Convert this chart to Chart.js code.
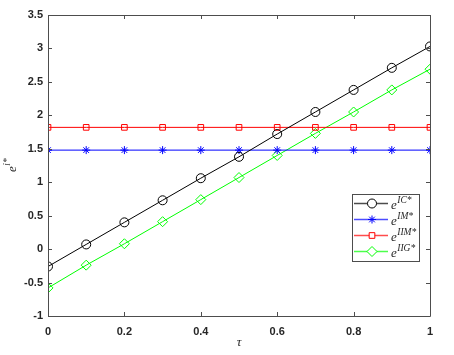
<!DOCTYPE html>
<html><head><meta charset="utf-8">
<script src="https://cdn.jsdelivr.net/npm/chart.js@4/dist/chart.umd.min.js"></script>
<style>html,body{margin:0;padding:0;background:#fff}#wrap{width:454px;height:355px}</style>
</head><body><div id="wrap"><canvas id="c" width="454" height="355"></canvas></div>
<script>
const tau = [0, 0.1, 0.2, 0.3, 0.4, 0.5, 0.6, 0.7, 0.8, 0.9, 1.0];
const eIC  = [-0.26, 0.07, 0.40, 0.73, 1.06, 1.38, 1.72, 2.05, 2.38, 2.71, 3.03];
const eIM  = [1.48, 1.48, 1.48, 1.48, 1.48, 1.48, 1.48, 1.48, 1.48, 1.48, 1.48];
const eIIM = [1.82, 1.82, 1.82, 1.82, 1.82, 1.82, 1.82, 1.82, 1.82, 1.82, 1.82];
const eIIG = [-0.58, -0.24, 0.08, 0.41, 0.74, 1.07, 1.40, 1.73, 2.05, 2.38, 2.69];
const seriesSup = ['IC*', 'IM*', 'IIM*', 'IIG*'];
const xTicks = [0, 0.2, 0.4, 0.6, 0.8, 1];
const yTicks = [-1, -0.5, 0, 0.5, 1, 1.5, 2, 2.5, 3, 3.5];

const colors = ['#000000', '#0000ff', '#ff0000', '#00ff00'];
const styles = ['circle', 'star', 'rect', 'rectRot'];
const radii = [4.5, 4, 4, 5];
const all = [eIC, eIM, eIIM, eIIG];

const datasets = all.map((arr, i) => ({
  label: seriesSup[i],
  data: arr.map((v, k) => ({x: tau[k], y: v})),
  borderColor: colors[i],
  backgroundColor: 'rgba(0,0,0,0)',
  borderWidth: 1,
  pointStyle: styles[i],
  pointRadius: radii[i],
  pointBorderColor: colors[i],
  pointBackgroundColor: 'rgba(0,0,0,0)',
  pointBorderWidth: 1,
  tension: 0
}));

const axisColor = '#4d4d4d';

const boxPlugin = {
  id: 'box',
  afterDatasetsDraw(chart) {
    const ctx = chart.ctx;
    const a = chart.chartArea;
    const xs = chart.scales.x, ys = chart.scales.y;
    ctx.save();
    ctx.strokeStyle = axisColor;
    ctx.lineWidth = 1;
    ctx.beginPath();
    ctx.rect(Math.round(a.left) + 0.5, Math.round(a.top) + 0.5, Math.round(a.right - a.left), Math.round(a.bottom - a.top));
    ctx.stroke();
    const L = 4;
    ctx.beginPath();
    xTicks.forEach(t => {
      const px = Math.round(xs.getPixelForValue(t)) + 0.5;
      ctx.moveTo(px, a.bottom); ctx.lineTo(px, a.bottom - L);
      ctx.moveTo(px, a.top); ctx.lineTo(px, a.top + L);
    });
    yTicks.forEach(t => {
      const py = Math.round(ys.getPixelForValue(t)) + 0.5;
      ctx.moveTo(a.left, py); ctx.lineTo(a.left + L, py);
      ctx.moveTo(a.right, py); ctx.lineTo(a.right - L, py);
    });
    ctx.stroke();

    // Axis titles
    ctx.fillStyle = '#262626';
    ctx.font = 'italic 13px "Liberation Serif"';
    ctx.textAlign = 'center';
    ctx.textBaseline = 'alphabetic';
    ctx.fillText('\u03C4', (a.left + a.right) / 2, 346);

    ctx.save();
    ctx.translate(16, 172);
    ctx.rotate(-Math.PI / 2);
    ctx.textAlign = 'left';
    ctx.font = 'italic 13px "Liberation Serif"';
    ctx.fillText('e', 0, 0);
    const ew = ctx.measureText('e').width;
    ctx.font = 'italic 9.5px "Liberation Serif"';
    ctx.fillText('i*', ew + 0.5, -6);
    ctx.restore();

    // Legend
    const lx = 352, ly = 194, lw = 67, lh = 67;
    ctx.fillStyle = '#ffffff';
    ctx.fillRect(lx, ly, lw, lh);
    ctx.strokeStyle = axisColor;
    ctx.strokeRect(lx + 0.5, ly + 0.5, lw, lh);
    const rowY = [203.5, 219.5, 235.5, 251.5];
    chart.data.datasets.forEach((ds, i) => {
      const y = rowY[i];
      ctx.strokeStyle = ds.borderColor;
      ctx.globalAlpha = 0.7;
      ctx.lineWidth = 1.5;
      ctx.beginPath();
      ctx.moveTo(354, y); ctx.lineTo(388, y);
      ctx.stroke();
      ctx.globalAlpha = 1;
      ctx.lineWidth = 1;
      ctx.fillStyle = '#ffffff';
      ctx.strokeStyle = ds.borderColor;
      Chart.helpers.drawPoint(ctx, {pointStyle: ds.pointStyle, radius: ds.pointRadius, borderWidth: 1, rotation: 0}, 372, y);
      ctx.fillStyle = '#262626';
      ctx.textAlign = 'left';
      ctx.font = 'italic 13px "Liberation Serif"';
      ctx.fillText('e', 391, y + 5);
      const w = ctx.measureText('e').width;
      ctx.font = 'italic 9.5px "Liberation Serif"';
      ctx.fillText(ds.label, 391 + w + 0.5, y - 1);
    });
    ctx.restore();
  }
};

new Chart(document.getElementById('c'), {
  type: 'line',
  data: { datasets },
  options: {
    responsive: false,
    animation: false,
    devicePixelRatio: 1,
    layout: { padding: { top: 15, right: 24, left: 0, bottom: 0 } },
    plugins: { legend: { display: false }, tooltip: { enabled: false } },
    scales: {
      x: {
        type: 'linear', min: 0, max: 1,
        afterBuildTicks: s => { s.ticks = xTicks.map(v => ({value: v})); },
        afterFit: s => { s.height = 39; },
        grid: { display: false, drawTicks: false },
        border: { display: false },
        ticks: { color: '#262626', font: { family: 'Arial, "Liberation Sans"', size: 11, weight: 'bold' }, padding: 9, maxRotation: 0,
          callback: v => String(v) }
      },
      y: {
        type: 'linear', min: -1, max: 3.5,
        afterBuildTicks: s => { s.ticks = yTicks.map(v => ({value: v})); },
        afterFit: s => { s.width = 48; },
        grid: { display: false, drawTicks: false },
        border: { display: false },
        ticks: { color: '#262626', font: { family: 'Arial, "Liberation Sans"', size: 11, weight: 'bold' }, padding: 5,
          callback: v => String(v) }
      }
    }
  },
  plugins: [boxPlugin]
});
</script>
</body></html>
